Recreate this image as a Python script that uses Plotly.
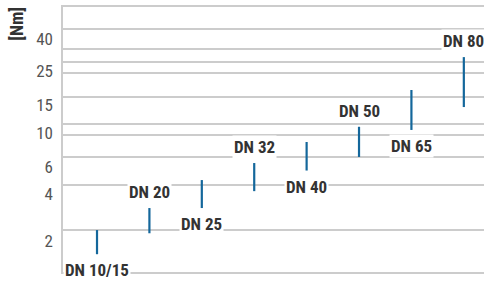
import math
import plotly.graph_objects as go

# ---- data ----
categories = ["DN 10/15", "DN 20", "DN 25", "DN 32", "DN 40", "DN 50", "DN 65", "DN 80"]
torque_min = [1.65, 2.25, 3.27, 4.2, 5.7, 6.97, 10.4, 14.6]
torque_max = [2.36, 3.27, 4.95, 6.37, 8.7, 10.9, 18.8, 30.6]
label_side = ["below", "above", "below", "above", "below", "above", "below", "above"]
tick_values = [2, 4, 6, 10, 15, 25, 40]
tick_labels = ["2", "4", "6", "10", "15", "25", "40"]
grid_values = [65, 46.4, 34.5, 28.5, 24.2, 16.9, 11.4, 9.65, 6.97, 4.6, 2.36]

FONT = "Liberation Sans Narrow, Roboto Condensed, Arial Narrow, Roboto, sans-serif"
BAR_COLOR = "#14679b"
GRID = "#cccccc"

xs, ys = [], []
for i, (lo, hi) in enumerate(zip(torque_min, torque_max)):
    xs += [i, i, None]
    ys += [lo, hi, None]

fig = go.Figure()
fig.add_trace(go.Scatter(x=xs, y=ys, mode="lines",
                         line=dict(color=BAR_COLOR, width=2.2),
                         hoverinfo="skip", showlegend=False))
# invisible trace to activate the label axis
fig.add_trace(go.Scatter(x=[0], y=[tick_values[0]], yaxis="y2", mode="markers",
                         marker=dict(opacity=0), hoverinfo="skip", showlegend=False))

yrange = [0.103, 1.821]

for i, name in enumerate(categories):
    if label_side[i] == "above":
        yv, shift = torque_max[i], 16
    else:
        yv, shift = torque_min[i], -16
    fig.add_annotation(x=i, y=math.log10(yv), xref="x", yref="y", text=name,
                       showarrow=False, yanchor="middle", xanchor="center", yshift=shift,
                       font=dict(family=FONT, size=17, color="#333333", weight="bold"),
                       bgcolor="white", borderpad=1)

fig.add_annotation(x=-0.112, y=1.0, xref="paper", yref="paper", text="[Nm]",
                   showarrow=False, textangle=-90, xanchor="center", yanchor="top",
                   font=dict(family=FONT, size=18, color="#333333", weight="bold"))

fig.update_layout(
    width=484, height=282,
    margin=dict(l=63, r=0, t=5, b=10, autoexpand=False),
    paper_bgcolor="white", plot_bgcolor="white",
    hovermode=False,
    xaxis=dict(range=[-0.649, 7.385], showgrid=False, zeroline=False,
               showticklabels=False, ticks="", showline=True,
               linecolor=GRID, linewidth=2, automargin=False),
    yaxis=dict(type="log", range=yrange, tickvals=grid_values, showticklabels=False,
               showgrid=True, gridcolor=GRID, gridwidth=1.5, ticks="",
               showline=True, linecolor=GRID, linewidth=2, zeroline=False,
               automargin=False),
    yaxis2=dict(type="log", range=yrange, overlaying="y", side="left",
                tickvals=tick_values, ticktext=tick_labels, showgrid=False,
                ticks="", ticklabelstandoff=9, zeroline=False, showline=False,
                automargin=False,
                tickfont=dict(family=FONT, size=17, color="#555555")),
)

fig.write_html("out.html", config={"displayModeBar": False},
               post_script="document.body.style.margin='0';document.body.style.overflow='hidden';")
